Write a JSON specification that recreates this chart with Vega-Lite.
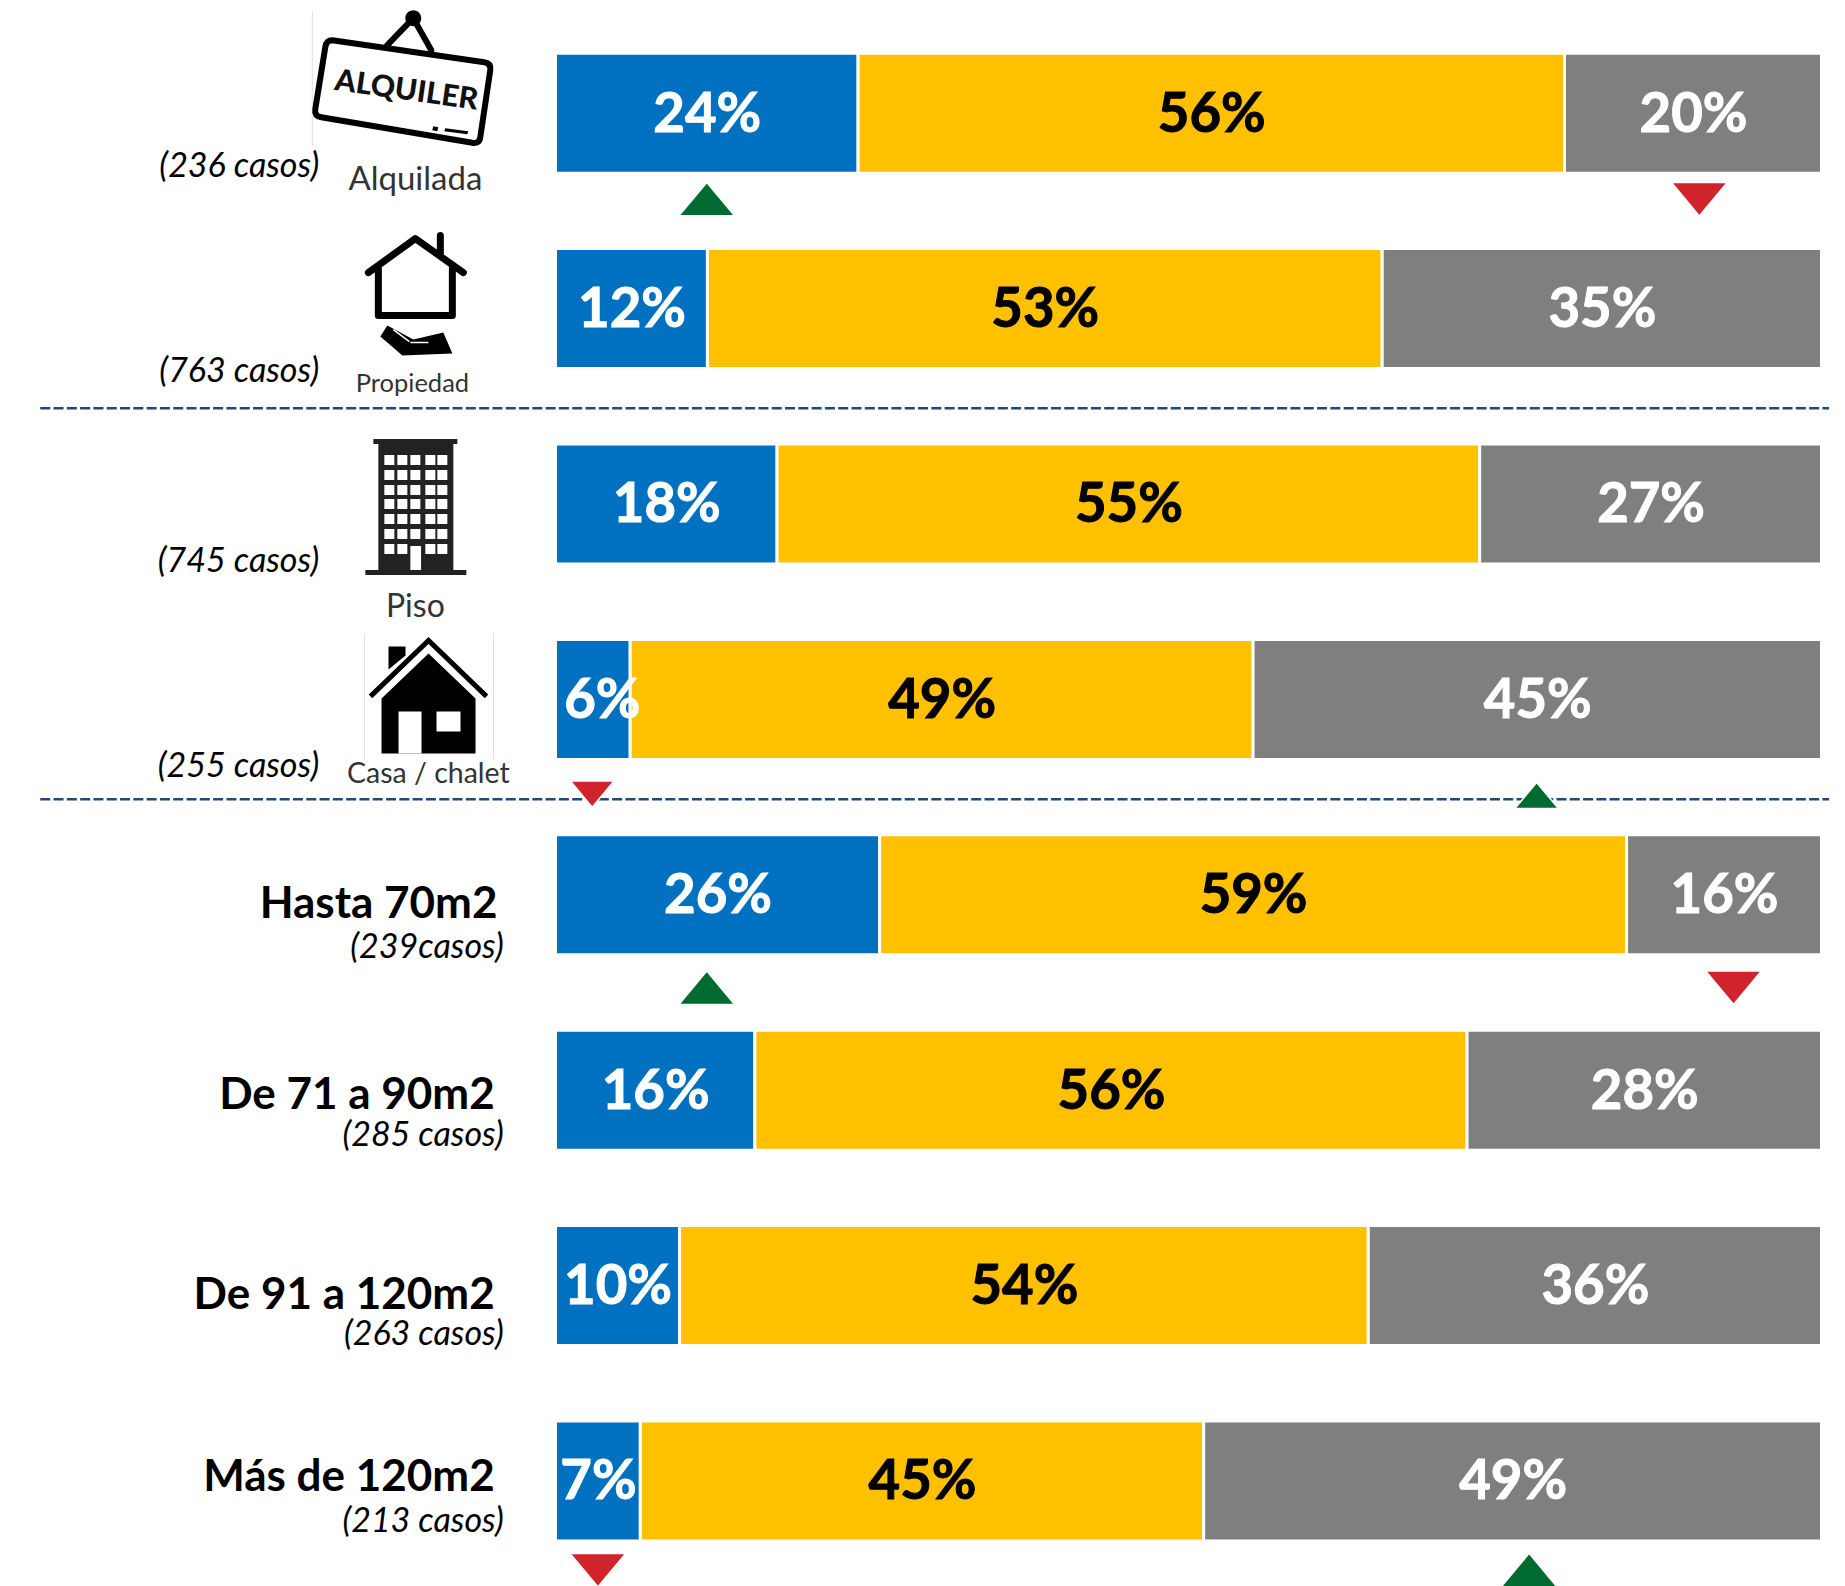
{"$schema":"https://vega.github.io/schema/vega-lite/v6.json","width":1845,"height":1586,"padding":0,"autosize":{"type":"none"},"background":"white","config":{"view":{"stroke":null},"font":"Lato"},
"datasets":{
"segmentos":[
{"row":1,"orden":1,"seg":"azul","valor":23.9,"pct":"24%"},{"row":1,"orden":2,"seg":"amarillo","valor":55.8,"pct":"56%"},{"row":1,"orden":3,"seg":"gris","valor":20.3,"pct":"20%"},
{"row":2,"orden":1,"seg":"azul","valor":12,"pct":"12%"},{"row":2,"orden":2,"seg":"amarillo","valor":53.3,"pct":"53%"},{"row":2,"orden":3,"seg":"gris","valor":34.7,"pct":"35%"},
{"row":3,"orden":1,"seg":"azul","valor":17.5,"pct":"18%"},{"row":3,"orden":2,"seg":"amarillo","valor":55.5,"pct":"55%"},{"row":3,"orden":3,"seg":"gris","valor":27,"pct":"27%"},
{"row":4,"orden":1,"seg":"azul","valor":5.9,"pct":"6%"},{"row":4,"orden":2,"seg":"amarillo","valor":49.2,"pct":"49%"},{"row":4,"orden":3,"seg":"gris","valor":44.9,"pct":"45%"},
{"row":5,"orden":1,"seg":"azul","valor":25.6,"pct":"26%"},{"row":5,"orden":2,"seg":"amarillo","valor":59,"pct":"59%"},{"row":5,"orden":3,"seg":"gris","valor":15.4,"pct":"16%"},
{"row":6,"orden":1,"seg":"azul","valor":15.75,"pct":"16%"},{"row":6,"orden":2,"seg":"amarillo","valor":56.25,"pct":"56%"},{"row":6,"orden":3,"seg":"gris","valor":28,"pct":"28%"},
{"row":7,"orden":1,"seg":"azul","valor":9.8,"pct":"10%"},{"row":7,"orden":2,"seg":"amarillo","valor":54.4,"pct":"54%"},{"row":7,"orden":3,"seg":"gris","valor":35.8,"pct":"36%"},
{"row":8,"orden":1,"seg":"azul","valor":6.7,"pct":"7%"},{"row":8,"orden":2,"seg":"amarillo","valor":44.5,"pct":"45%"},{"row":8,"orden":3,"seg":"gris","valor":48.8,"pct":"49%"}],
"filas":[
{"row":1,"casos":"(236 casos)","cat":"Alquilada"},{"row":2,"casos":"(763 casos)","cat":"Propiedad"},{"row":3,"casos":"(745 casos)","cat":"Piso"},{"row":4,"casos":"(255 casos)","cat":"Casa / chalet"},
{"row":5,"casos":"(239casos)","tam":"Hasta 70m2"},{"row":6,"casos":"(285 casos)","tam":"De 71 a 90m2"},{"row":7,"casos":"(263 casos)","tam":"De 91 a 120m2"},{"row":8,"casos":"(213 casos)","tam":"Más de 120m2"}],
"marcadores":[
{"row":1,"pos":1.44,"en":11.95,"dir":"sube"},{"row":1,"pos":1.44,"en":90.35,"dir":"baja"},
{"row":4,"pos":4.485,"en":2.9,"dir":"baja"},{"row":4,"pos":4.492,"en":77.5,"dir":"sube"},
{"row":5,"pos":5.476,"en":11.95,"dir":"sube"},{"row":5,"pos":5.476,"en":93.05,"dir":"baja"},
{"row":8,"pos":8.456,"en":3.35,"dir":"baja"},{"row":8,"pos":8.456,"en":76.9,"dir":"sube"}]
},
"encoding":{"y":{"field":"row","type":"quantitative","axis":null,"scale":{"domain":[0.4207,8.5374],"reverse":true,"nice":false,"zero":false,"padding":0}}},
"layer":[
{"data":{"name":"segmentos"},"mark":{"type":"bar","orient":"horizontal","size":120,"stroke":"white","strokeWidth":3},
"encoding":{"x":{"field":"valor","type":"quantitative","stack":"zero","axis":null,"scale":{"domain":[-43.878,101.856],"nice":false,"zero":false,"padding":0}},"color":{"field":"seg","type":"nominal","legend":null,"scale":{"domain":["azul","amarillo","gris"],"range":["#0070C0","#FFC000","#7F7F7F"]}},"order":{"field":"orden"}}},
{"data":{"name":"segmentos"},"mark":{"type":"text","font":"Lato","fontWeight":"bold","fontSize":54.5,"baseline":"middle","strokeWidth":1,"dy":{"expr":"2.5"},"dx":{"expr":"datum.row==4&&datum.orden==1?9.5:0.5"}},
"encoding":{"x":{"field":"valor","type":"quantitative","stack":"zero","bandPosition":0.5,"axis":null,"scale":{"domain":[-43.878,101.856],"nice":false,"zero":false,"padding":0}},"text":{"field":"pct"},"order":{"field":"orden"},"color":{"condition":{"test":"datum.seg=='amarillo'","value":"#000000"},"value":"#FFFFFF"},"stroke":{"condition":{"test":"datum.seg=='amarillo'","value":"#000000"},"value":"#FFFFFF"}}},
{"data":{"values":[{"linea":2.51},{"linea":4.511}]},"mark":{"type":"rule","color":"#1F497D","strokeWidth":2.5,"strokeDash":[10,3.3]},
"encoding":{"y":{"field":"linea","type":"quantitative","axis":null,"scale":{"domain":[0.4207,8.5374],"reverse":true,"nice":false,"zero":false,"padding":0}},"x":{"datum":-40.7,"type":"quantitative","axis":null,"scale":{"domain":[-43.878,101.856],"nice":false,"zero":false,"padding":0}},"x2":{"datum":100.6}}},
{"data":{"name":"marcadores"},"mark":{"type":"point","filled":true,"opacity":1,"stroke":"white","strokeWidth":1.5},
"encoding":{"y":{"field":"pos","type":"quantitative","axis":null,"scale":{"domain":[0.4207,8.5374],"reverse":true,"nice":false,"zero":false,"padding":0}},"x":{"field":"en","type":"quantitative","axis":null,"scale":{"domain":[-43.878,101.856],"nice":false,"zero":false,"padding":0}},
"shape":{"field":"dir","type":"nominal","legend":null,"scale":{"domain":["sube","baja"],"range":["M-1,0.6L1,0.6L0,-0.6Z","M-1,-0.6L1,-0.6L0,0.6Z"]}},
"fill":{"field":"dir","type":"nominal","legend":null,"scale":{"domain":["sube","baja"],"range":["#006B31","#D0232B"]}},
"size":{"condition":{"test":"datum.row==4","value":1900},"value":3100}}},
{"data":{"name":"filas"},"mark":{"type":"text","font":"Lato","fontStyle":"italic","fontSize":34,"align":"right","baseline":"middle","color":"#000000","dx":{"expr":"datum.row<=4?-183.8:0.8"},"dy":{"expr":"[53.5,63,58,67.6,53.5,46,49,41][datum.row-1]"}},
"encoding":{"x":{"datum":-4.142,"type":"quantitative","axis":null,"scale":{"domain":[-43.878,101.856],"nice":false,"zero":false,"padding":0}},"text":{"field":"casos"}}},
{"data":{"name":"filas"},"transform":[{"filter":"datum.row>=5"}],"mark":{"type":"text","font":"Lato","fontWeight":"bold","fontSize":44,"align":"right","baseline":"middle","color":"#000000","dx":{"expr":"datum.row==5?4:1.2"},"dy":{"expr":"[0,0,0,0,10.2,5.5,10.1,-3][datum.row-1]"}},
"encoding":{"x":{"datum":-4.9,"type":"quantitative","axis":null,"scale":{"domain":[-43.878,101.856],"nice":false,"zero":false,"padding":0}},"text":{"field":"tam"}}},
{"data":{"name":"filas"},"transform":[{"filter":"datum.row<=4"}],"mark":{"type":"text","font":"Lato","align":"center","baseline":"middle","color":"#333333","fontSize":{"expr":"[33,25.5,32,28.5][datum.row-1]"},"dx":{"expr":"[1,-2,1,14][datum.row-1]"},"dy":{"expr":"[67,75,103.2,74.8][datum.row-1]"}},
"encoding":{"x":{"datum":-11.146,"type":"quantitative","axis":null,"scale":{"domain":[-43.878,101.856],"nice":false,"zero":false,"padding":0}},"text":{"field":"cat"}}},
{"data":{"values":[{"row":1}]},"mark":{"type":"point","size":4,"filled":false,"opacity":1,"stroke":"#E0E0E0","strokeWidth":1,"shape":"M-88,-102L-88,32"},
"encoding":{"x":{"datum":-12.26,"type":"quantitative","axis":null,"scale":{"domain":[-43.878,101.856],"nice":false,"zero":false,"padding":0}}}},
{"data":{"values":[{"row":1}]},"mark":{"type":"point","size":4,"filled":false,"opacity":1,"stroke":"#000000","strokeWidth":6,"strokeJoin":"round","strokeCap":"round","shape":"M-68,-73L84,-51Q91,-50 90,-43L80,24Q79,31 72,29.5L-79,4Q-86,3 -85,-4L-75,-66Q-74,-73 -68,-73ZM-13,-68L13,-95L31,-63"},
"encoding":{"x":{"datum":-12.26,"type":"quantitative","axis":null,"scale":{"domain":[-43.878,101.856],"nice":false,"zero":false,"padding":0}}}},
{"data":{"values":[{"row":1}]},"mark":{"type":"point","size":4,"filled":true,"opacity":1,"color":"#000000","shape":"M5,-95a8,8 0 1,0 16,0a8,8 0 1,0 -16,0ZM33,13L38,14L37,18L32,17ZM45,15L68,18L67,21L44,18Z"},
"encoding":{"x":{"datum":-12.26,"type":"quantitative","axis":null,"scale":{"domain":[-43.878,101.856],"nice":false,"zero":false,"padding":0}}}},
{"data":{"values":[{"row":1,"rotulo":"ALQUILER"}]},"mark":{"type":"text","font":"Lato","fontWeight":900,"fontSize":30,"angle":8,"align":"center","baseline":"middle","color":"#111111","dy":{"expr":"-23"},"dx":{"expr":"3"}},
"encoding":{"x":{"datum":-12.26,"type":"quantitative","axis":null,"scale":{"domain":[-43.878,101.856],"nice":false,"zero":false,"padding":0}},"text":{"field":"rotulo"}}},
{"data":{"values":[{"row":2}]},"mark":{"type":"point","size":4,"filled":false,"opacity":1,"stroke":"#000000","strokeWidth":7,"strokeCap":"round","strokeJoin":"round","shape":"M-47,-36L0,-70L48,-36M-37,-40L-37,7L37,7L37,-40M25,-73L25,-53"},
"encoding":{"x":{"datum":-11.07,"type":"quantitative","axis":null,"scale":{"domain":[-43.878,101.856],"nice":false,"zero":false,"padding":0}}}},
{"data":{"values":[{"row":2}]},"mark":{"type":"point","size":4,"filled":true,"opacity":1,"color":"#000000","shape":"M-35,28L-28,17L-2,31L28,24L37,45L-13,47Z"},
"encoding":{"x":{"datum":-11.07,"type":"quantitative","axis":null,"scale":{"domain":[-43.878,101.856],"nice":false,"zero":false,"padding":0}}}},
{"data":{"values":[{"row":2}]},"mark":{"type":"point","size":4,"filled":false,"opacity":1,"stroke":"#FFFFFF","strokeWidth":1.5,"shape":"M-22,21L-6,33M-5,34L13,34"},
"encoding":{"x":{"datum":-11.07,"type":"quantitative","axis":null,"scale":{"domain":[-43.878,101.856],"nice":false,"zero":false,"padding":0}}}},
{"data":{"values":[{"row":3}]},"mark":{"type":"point","size":4,"filled":true,"opacity":1,"color":"#222222","shape":"M-42,-65H42V-60H38V66H51V71H-50V66H-37V-60H-42Z"},
"encoding":{"x":{"datum":-11.07,"type":"quantitative","axis":null,"scale":{"domain":[-43.878,101.856],"nice":false,"zero":false,"padding":0}}}},
{"data":{"values":[{"row":3}]},"mark":{"type":"point","size":4,"filled":true,"opacity":1,"color":"#FFFFFF","shape":"M-31,-49h10v10h-10zM-18,-49h10v10h-10zM-5,-49h10v10h-10zM10,-49h10v10h-10zM22,-49h10v10h-10zM-31,-34h10v10h-10zM-18,-34h10v10h-10zM-5,-34h10v10h-10zM10,-34h10v10h-10zM22,-34h10v10h-10zM-31,-19h10v10h-10zM-18,-19h10v10h-10zM-5,-19h10v10h-10zM10,-19h10v10h-10zM22,-19h10v10h-10zM-31,-5h10v10h-10zM-18,-5h10v10h-10zM-5,-5h10v10h-10zM10,-5h10v10h-10zM22,-5h10v10h-10zM-31,10h10v10h-10zM-18,10h10v10h-10zM-5,10h10v10h-10zM10,10h10v10h-10zM22,10h10v10h-10zM-31,25h10v10h-10zM-18,25h10v10h-10zM-5,25h10v10h-10zM10,25h10v10h-10zM22,25h10v10h-10zM-31,40h10v10h-10zM-18,40h10v10h-10zM10,40h10v10h-10zM22,40h10v10h-10zM-5,42h10.7v24h-10.7z"},
"encoding":{"x":{"datum":-11.07,"type":"quantitative","axis":null,"scale":{"domain":[-43.878,101.856],"nice":false,"zero":false,"padding":0}}}},
{"data":{"values":[{"row":4}]},"mark":{"type":"point","size":4,"filled":false,"opacity":1,"stroke":"#E0E0E0","strokeWidth":1,"shape":"M-64,-66L-64,60M65,-66L65,60"},
"encoding":{"x":{"datum":-10.03,"type":"quantitative","axis":null,"scale":{"domain":[-43.878,101.856],"nice":false,"zero":false,"padding":0}}}},
{"data":{"values":[{"row":4}]},"mark":{"type":"point","size":4,"filled":false,"opacity":1,"stroke":"#000000","strokeWidth":5,"shape":"M-58,-3L0,-59L58,-3"},
"encoding":{"x":{"datum":-10.03,"type":"quantitative","axis":null,"scale":{"domain":[-43.878,101.856],"nice":false,"zero":false,"padding":0}}}},
{"data":{"values":[{"row":4}]},"mark":{"type":"point","size":4,"filled":true,"opacity":1,"color":"#000000","shape":"M0,-46L47,-1L47,54L-47,54L-47,-1ZM-40,-53H-23V-44L-40,-30Z"},
"encoding":{"x":{"datum":-10.03,"type":"quantitative","axis":null,"scale":{"domain":[-43.878,101.856],"nice":false,"zero":false,"padding":0}}}},
{"data":{"values":[{"row":4}]},"mark":{"type":"point","size":4,"filled":true,"opacity":1,"color":"#FFFFFF","shape":"M-30,12H-7V54H-30ZM8,12H32V32H8Z"},
"encoding":{"x":{"datum":-10.03,"type":"quantitative","axis":null,"scale":{"domain":[-43.878,101.856],"nice":false,"zero":false,"padding":0}}}}
]}
